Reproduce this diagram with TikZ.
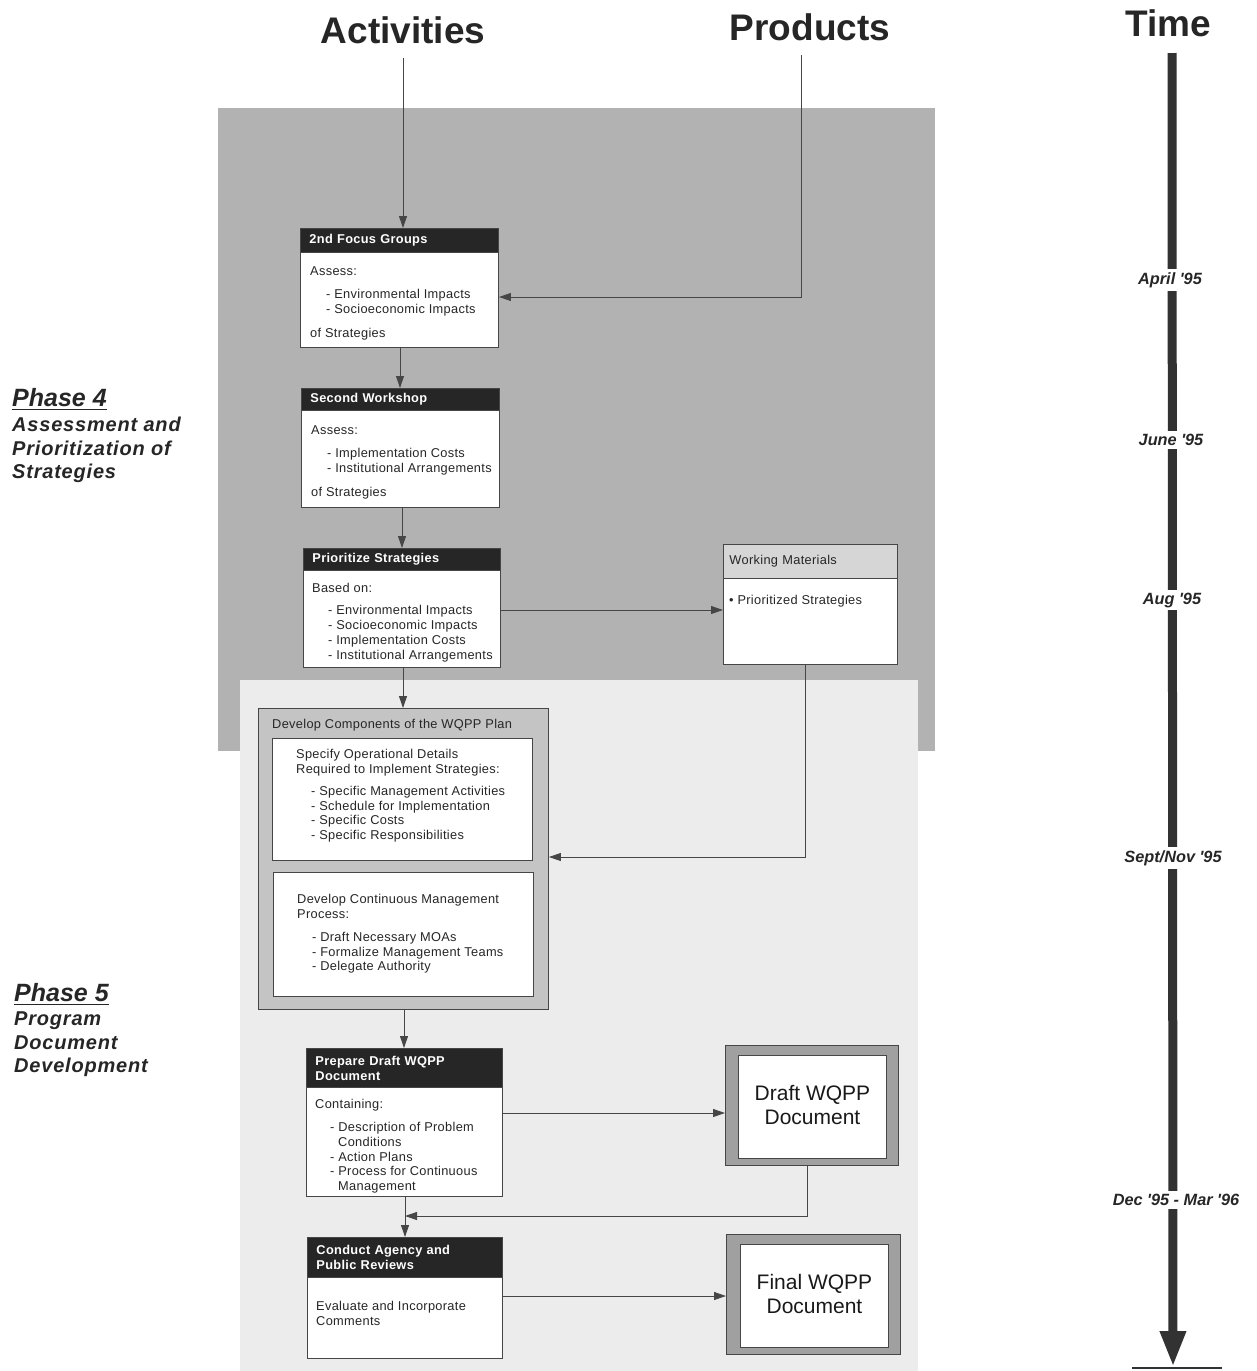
\documentclass[tikz,border=0pt]{standalone}
\usepackage{fontspec}
\setmainfont{Liberation Sans}
\newfontfamily\bodyfont{Liberation Sans}[LetterSpace=2.5]
\newfontfamily\phasefont{Liberation Sans}[LetterSpace=4]
\usetikzlibrary{arrows.meta,calc}
\definecolor{darkregion}{RGB}{178,178,178}
\definecolor{lightregion}{RGB}{236,236,236}
\definecolor{hdrgray}{RGB}{38,38,38}
\definecolor{linegray}{RGB}{70,70,70}
\definecolor{wmhdr}{RGB}{214,214,214}
\definecolor{devgray}{RGB}{196,196,196}
\definecolor{frame}{RGB}{160,160,160}
\definecolor{timebar}{RGB}{50,50,50}
\tikzset{
  lab/.style={font=\bodyfont\fontsize{12.8}{14.7}\selectfont, align=left, anchor=north west, inner sep=0, text=black!85},
  box/.style={draw=linegray, line width=0.9, fill=white, anchor=north west, inner sep=0},
  hdr/.style={fill=hdrgray, draw=linegray, line width=0.9, text=white, font=\bodyfont\bfseries\fontsize{12.8}{15}\selectfont, anchor=north west, align=left, inner xsep=9, inner ysep=0},
  conn/.style={draw=linegray, line width=0.9, -{Triangle[length=12,width=8]}},
  title/.style={font=\bfseries\fontsize{37}{40}\selectfont, text=black!85},
  tlab/.style={font=\bfseries\itshape\fontsize{16.3}{18}\selectfont, fill=white, inner xsep=2, inner ysep=3, text=black!85},
  phase/.style={font=\bfseries\itshape\fontsize{25}{28}\selectfont, anchor=base west, inner sep=0, text=black!85},
  phasesub/.style={font=\phasefont\bfseries\itshape\fontsize{20}{23.5}\selectfont, anchor=north west, align=left, inner sep=0, text=black!85},
  prod/.style={font=\fontsize{21}{24.5}\selectfont, align=center, text=black!90},
}
\begin{document}
\begin{tikzpicture}[x=1pt,y=-1pt]
\useasboundingbox (0,0) rectangle (1256,1371);
\fill[white] (0,0) rectangle (1256,1371);
% background regions
\fill[darkregion] (218,108) rectangle (935,751);
\fill[lightregion] (240,680) rectangle (918,1371);

% titles
\node[title] (act) at (403,30) {Activities};
\node[title] (prd) at (810,27) {Products};
\node[title] (tim) at (1168,23) {Time};
\coordinate (acttop) at (403,58);
\coordinate (prodtop) at (801,55);

% phase labels
\node[phase] (p4) at (12,406) {Phase 4};
\draw[line width=1.6, black!85] ([yshift=-3.5]p4.base west) -- ([yshift=-3.5]p4.base east);
\node[phasesub] (p4s) at (12,417) {Assessment and\\Prioritization of\\Strategies};
\node[phase] (p5) at (14,1001) {Phase 5};
\draw[line width=1.6, black!85] ([yshift=-3.5]p5.base west) -- ([yshift=-3.5]p5.base east);
\node[phasesub] (p5s) at (14,1012) {Program\\Document\\Development};

% Box 1
\node[box, minimum width=198, minimum height=119] (b1) at (300,228) {};
\node[hdr, text width=180, minimum height=24] (h1) at (300,228) {2nd Focus Groups};
\node[lab] (t1) at (310,266.5) {Assess:\\[8.3pt]\hspace*{16pt}- Environmental Impacts\\\hspace*{16pt}- Socioeconomic Impacts\\[9.3pt]of Strategies};

% Box 2
\node[box, minimum width=198, minimum height=119] (b2) at (301,388) {};
\node[hdr, text width=180, minimum height=22] (h2) at (301,388) {Second Workshop};
\node[lab] (t2) at (311,425.5) {Assess:\\[8.3pt]\hspace*{16pt}- Implementation Costs\\\hspace*{16pt}- Institutional Arrangements\\[9.3pt]of Strategies};

% Box 3
\node[box, minimum width=197, minimum height=119] (b3) at (303,548) {};
\node[hdr, text width=179, minimum height=22] (h3) at (303,548) {Prioritize Strategies};
\node[lab] (t3) at (312,583.5) {Based on:\\[7.3pt]\hspace*{16pt}- Environmental Impacts\\\hspace*{16pt}- Socioeconomic Impacts\\\hspace*{16pt}- Implementation Costs\\\hspace*{16pt}- Institutional Arrangements};

% Working materials
\node[box, minimum width=174, minimum height=120] (wm) at (723,544) {};
\node[box, fill=wmhdr, minimum width=174, minimum height=34, text width=162, inner xsep=6, align=left, font=\bodyfont\fontsize{12.8}{15}\selectfont, text=black!85] (wmh) at (723,544) {Working Materials};
\node[lab] (wmt) at (729,595) {\textbullet\ Prioritized Strategies};

% Develop components
\node[box, fill=devgray, minimum width=290, minimum height=301] (dev) at (258,708) {};
\node[lab, anchor=west] (devt) at (272,725) {Develop Components of the WQPP Plan};
\node[box, minimum width=260, minimum height=122] (d1) at (272,738) {};
\node[lab] (d1t) at (296,749.5) {Specify Operational Details\\Required to Implement Strategies:\\[7pt]\hspace*{15pt}- Specific Management Activities\\\hspace*{15pt}- Schedule for Implementation\\\hspace*{15pt}- Specific Costs\\\hspace*{15pt}- Specific Responsibilities};
\node[box, minimum width=260, minimum height=124] (d2) at (273,872) {};
\node[lab] (d2t) at (297,894.5) {Develop Continuous Management\\Process:\\[8pt]\hspace*{15pt}- Draft Necessary MOAs\\\hspace*{15pt}- Formalize Management Teams\\\hspace*{15pt}- Delegate Authority};

% Prepare draft
\node[box, minimum width=196, minimum height=148] (prep) at (306,1048) {};
\node[hdr, text width=178, minimum height=39] (hp) at (306,1048) {Prepare Draft WQPP\\Document};
\node[lab] (pt) at (315,1099.5) {Containing:\\[8pt]\hspace*{15pt}- Description of Problem\\\hspace*{23pt}Conditions\\\hspace*{15pt}- Action Plans\\\hspace*{15pt}- Process for Continuous\\\hspace*{23pt}Management};

% Conduct reviews
\node[box, minimum width=195, minimum height=121] (cond) at (307,1237) {};
\node[hdr, text width=177, minimum height=40] (hc) at (307,1237) {Conduct Agency and\\Public Reviews};
\node[lab] (ct) at (316,1301.5) {Evaluate and Incorporate\\Comments};

% Draft WQPP product
\node[box, fill=frame, minimum width=173, minimum height=120] (draft) at (725,1045) {};
\node[box, minimum width=148, minimum height=103] (draftin) at (738,1055) {};
\node[prod] at ([yshift=2]draftin.center) {Draft WQPP\\Document};

% Final WQPP product
\node[box, fill=frame, minimum width=174, minimum height=120] (final) at (726,1234) {};
\node[box, minimum width=148, minimum height=103] (finalin) at (740,1244) {};
\node[prod] at ([yshift=2]finalin.center) {Final WQPP\\Document};

% connectors
\draw[conn] (acttop) -- (acttop |- b1.north);
\draw[conn] (prodtop) |- (b1.east |- 0,297);
\draw[conn] (b1.south -| 400,0) -- (b2.north -| 400,0);
\draw[conn] (b2.south -| 402,0) -- (b3.north -| 402,0);
\draw[conn] (b3.east |- 0,610) -- (wm.west |- 0,610);
\draw[conn] (b3.south -| 403,0) -- (dev.north -| 403,0);
\draw[conn] (wm.south -| 805,0) |- (dev.east |- 0,857);
\draw[conn] (dev.south -| 404,0) -- (prep.north -| 404,0);
\draw[conn] (prep.east |- 0,1113) -- (draft.west |- 0,1113);
\coordinate (merge) at (405,1216);
\draw[conn] (draft.south -| 807,0) |- (merge);
\draw[conn] (prep.south -| 405,0) -- (cond.north -| 405,0);
\draw[conn] (cond.east |- 0,1296) -- (final.west |- 0,1296);

% time axis
\coordinate (ttop) at (1172,53);
\coordinate (tend) at (1173,1367);
\draw[timebar, line width=9, -{Triangle[length=36,width=24]}] (ttop) -- (tend);
\draw[timebar, line width=2.5] (1132,1368) -- (1222,1368);
\node[tlab] at (1170,280) {April \textquotesingle95};
\node[tlab] at (1171,440) {June \textquotesingle95};
\node[tlab] at (1172,600) {Aug \textquotesingle95};
\node[tlab] at (1173,858) {Sept/Nov \textquotesingle95};
\node[tlab] at (1176,1200) {Dec \textquotesingle95 - Mar \textquotesingle96};
\end{tikzpicture}
\end{document}
